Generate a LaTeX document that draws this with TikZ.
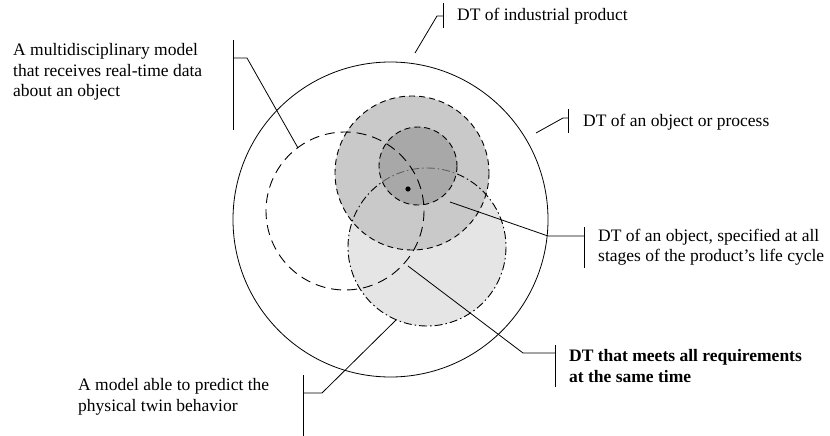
\documentclass[tikz,border=0pt]{standalone}
\usepackage{fontspec}
\setmainfont{Liberation Serif}
\begin{document}
\begin{tikzpicture}[x=1pt,y=-1pt,
  lbl/.style={anchor=west,inner sep=0pt,align=left,font=\fontsize{17.5}{20.5}\selectfont},
  conn/.style={line width=0.8pt,black},
  tickline/.style={line width=1pt,black},
  dashA/.style={line width=0.9pt,dash pattern=on 6pt off 4pt},
  dashB/.style={line width=0.9pt,dash pattern=on 10pt off 6pt},
  dashC/.style={line width=0.9pt,dash pattern=on 8pt off 3pt on 1.5pt off 3pt}]
\useasboundingbox (0,0) rectangle (830,436);
% fills
\fill[white] (0,0) rectangle (830,436);
\draw[line width=0.8pt] (390.5,219.5) circle[radius=157.5];
\fill[black!10] (427,247) circle[radius=79];
\fill[black!21] (412,173) circle[radius=77];
\draw[dashC] (427,247) circle[radius=79];
\fill[black!41,opacity=0.64] (418,166) circle[radius=39];
\draw[dashA] (412,173) circle[radius=77];
\draw[dashA] (418,166) circle[radius=39];
\draw[dashB] (345,211) circle[radius=79];
\fill (408,189) circle[radius=2.6];
% labels
\node[lbl] (l1) at (457,16) {DT of industrial product};
\node[lbl] (l2) at (583,122) {DT of an object or process};
\node[lbl] (l3) at (598,247) {DT of an object, specified at all\\stages of the product’s life cycle};
\node[lbl,font=\fontsize{17.5}{20.5}\selectfont\bfseries] (l4) at (569,366) {DT that meets all requirements\\at the same time};
\node[lbl] (l5) at (13,72) {A multidisciplinary model\\that receives real-time data\\about an object};
\node[lbl] (l6) at (78,397) {A model able to predict the\\physical twin behavior};
% connector points
\coordinate (a1) at (415,53);  \coordinate (b1) at (437,16);  \coordinate (t1) at (443,16);
\coordinate (a2) at (536,133); \coordinate (b2) at (563,118); \coordinate (t2) at (568,118);
\coordinate (a3) at (450,202); \coordinate (b3) at (548,236); \coordinate (t3) at (584,236);
\coordinate (a4) at (408,266); \coordinate (b4) at (523,353); \coordinate (t4) at (555,353);
\coordinate (a5) at (298,148); \coordinate (b5) at (247,58);  \coordinate (t5) at (233,58);
\coordinate (a6) at (396,320); \coordinate (b6) at (322,393); \coordinate (t6) at (303,393);
\draw[conn] (a1) -- (b1) -- (t1);
\draw[conn] (a2) -- (b2) -- (t2);
\draw[conn] (a3) -- (b3) -- (t3);
\draw[conn] (a4) -- (b4) -- (t4);
\draw[conn] (a5) -- (b5) -- (t5);
\draw[conn] (a6) -- (b6) -- (t6);
% ticks
\draw[tickline] ([yshift=13pt]t1) -- ([yshift=-12pt]t1);
\draw[tickline] ([yshift=9pt]t2) -- ([yshift=-15pt]t2);
\draw[tickline] ([yshift=9pt]t3) -- ([yshift=-32pt]t3);
\draw[tickline] ([yshift=8pt]t4) -- ([yshift=-34pt]t4);
\draw[tickline] ([yshift=18pt]t5) -- ([yshift=-72pt]t5);
\draw[tickline] ([yshift=18pt]t6) -- (303,436);
\end{tikzpicture}
\end{document}
